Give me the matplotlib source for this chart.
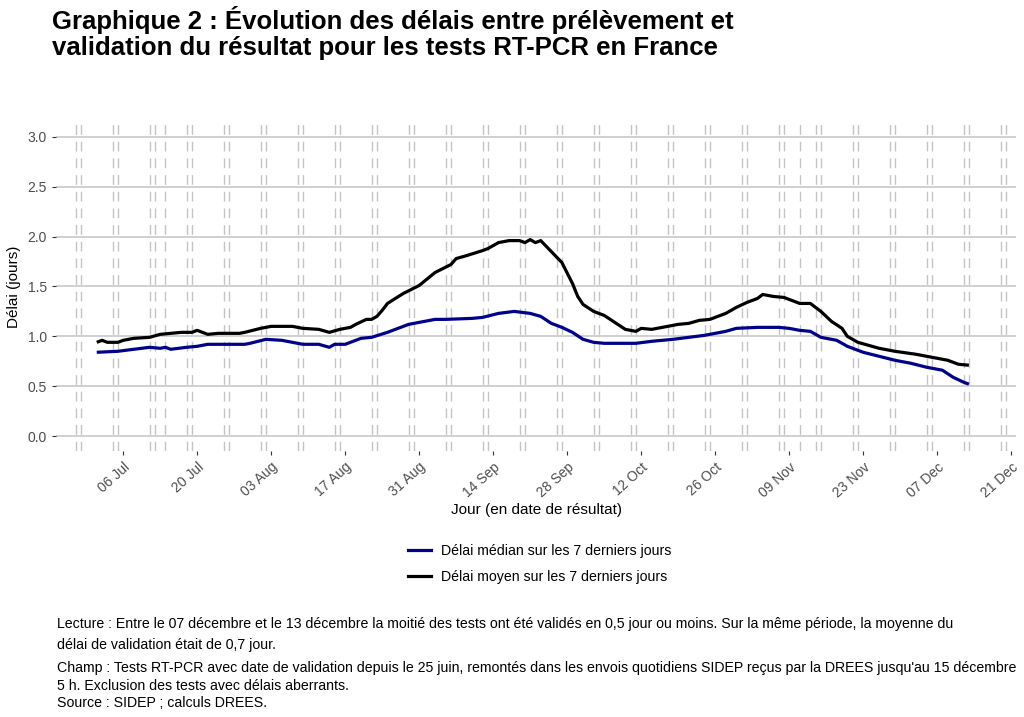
import numpy as np
import pandas as pd
import matplotlib
matplotlib.use("Agg")
import matplotlib.pyplot as plt
import matplotlib.dates as mdates
from matplotlib.lines import Line2D

plt.rcParams['font.family'] = ['Liberation Sans', 'DejaVu Sans']

# délai moyen (noir)
dates_moyen = ["2020-07-01", "2020-07-02", "2020-07-03", "2020-07-05", "2020-07-06", "2020-07-08",
               "2020-07-11", "2020-07-13", "2020-07-17", "2020-07-19", "2020-07-20", "2020-07-22",
               "2020-07-24", "2020-07-28", "2020-07-29", "2020-08-01", "2020-08-03", "2020-08-07",
               "2020-08-09", "2020-08-12", "2020-08-14", "2020-08-16", "2020-08-18", "2020-08-19",
               "2020-08-21", "2020-08-22", "2020-08-23", "2020-08-24", "2020-08-25", "2020-08-28",
               "2020-08-31", "2020-09-03", "2020-09-06", "2020-09-07", "2020-09-09", "2020-09-12",
               "2020-09-13", "2020-09-15", "2020-09-17", "2020-09-19", "2020-09-20", "2020-09-21",
               "2020-09-22", "2020-09-23", "2020-09-25", "2020-09-27", "2020-09-29", "2020-09-30",
               "2020-10-01", "2020-10-03", "2020-10-05", "2020-10-07", "2020-10-09", "2020-10-11",
               "2020-10-12", "2020-10-14", "2020-10-16", "2020-10-19", "2020-10-21", "2020-10-23",
               "2020-10-25", "2020-10-28", "2020-10-30", "2020-11-01", "2020-11-03", "2020-11-04",
               "2020-11-06", "2020-11-08", "2020-11-11", "2020-11-13", "2020-11-15", "2020-11-17",
               "2020-11-19", "2020-11-20", "2020-11-22", "2020-11-26", "2020-11-29", "2020-12-03",
               "2020-12-06", "2020-12-09", "2020-12-11", "2020-12-13"]
delai_moyen = [0.94, 0.96, 0.94, 0.94, 0.96, 0.98,
               0.99, 1.02, 1.04, 1.04, 1.06, 1.02,
               1.03, 1.03, 1.04, 1.08, 1.10, 1.10,
               1.08, 1.07, 1.04, 1.07, 1.09, 1.12,
               1.17, 1.17, 1.20, 1.26, 1.33, 1.43,
               1.51, 1.64, 1.72, 1.78, 1.81, 1.86,
               1.88, 1.94, 1.96, 1.96, 1.94, 1.97,
               1.94, 1.96, 1.85, 1.74, 1.53, 1.40,
               1.32, 1.25, 1.21, 1.14, 1.07, 1.05,
               1.08, 1.07, 1.09, 1.12, 1.13, 1.16,
               1.17, 1.23, 1.29, 1.34, 1.38, 1.42,
               1.40, 1.39, 1.33, 1.33, 1.25, 1.15,
               1.08, 1.00, 0.94, 0.88, 0.85, 0.82,
               0.79, 0.76, 0.72, 0.71]

# délai médian (bleu)
dates_median = ["2020-07-01", "2020-07-05", "2020-07-08", "2020-07-11", "2020-07-13", "2020-07-14",
                "2020-07-15", "2020-07-18", "2020-07-20", "2020-07-22", "2020-07-29", "2020-07-30",
                "2020-08-02", "2020-08-05", "2020-08-09", "2020-08-12", "2020-08-14", "2020-08-15",
                "2020-08-17", "2020-08-20", "2020-08-22", "2020-08-25", "2020-08-29", "2020-09-03",
                "2020-09-05", "2020-09-10", "2020-09-12", "2020-09-15", "2020-09-18", "2020-09-21",
                "2020-09-23", "2020-09-25", "2020-09-27", "2020-09-29", "2020-10-01", "2020-10-03",
                "2020-10-05", "2020-10-11", "2020-10-14", "2020-10-18", "2020-10-21", "2020-10-24",
                "2020-10-26", "2020-10-28", "2020-10-30", "2020-11-03", "2020-11-07", "2020-11-09",
                "2020-11-11", "2020-11-13", "2020-11-15", "2020-11-18", "2020-11-20", "2020-11-23",
                "2020-11-26", "2020-11-29", "2020-12-02", "2020-12-05", "2020-12-08", "2020-12-10",
                "2020-12-12", "2020-12-13"]
delai_median = [0.84, 0.85, 0.87, 0.89, 0.88, 0.89,
                0.87, 0.89, 0.90, 0.92, 0.92, 0.93,
                0.97, 0.96, 0.92, 0.92, 0.89, 0.92,
                0.92, 0.98, 0.99, 1.04, 1.12, 1.17,
                1.17, 1.18, 1.19, 1.23, 1.25, 1.23,
                1.20, 1.13, 1.09, 1.04, 0.97, 0.94,
                0.93, 0.93, 0.95, 0.97, 0.99, 1.01,
                1.03, 1.05, 1.08, 1.09, 1.09, 1.08,
                1.06, 1.05, 0.99, 0.96, 0.90, 0.84,
                0.80, 0.76, 0.73, 0.69, 0.66, 0.59,
                0.54, 0.52]

# week-ends et jours fériés (lignes verticales)
premier_samedi = "2020-06-27"
dernier_dimanche = "2020-12-20"
jours_feries = ["2020-07-14", "2020-11-11"]

tick_dates = ["2020-07-06", "2020-07-20", "2020-08-03", "2020-08-17", "2020-08-31", "2020-09-14",
              "2020-09-28", "2020-10-12", "2020-10-26", "2020-11-09", "2020-11-23", "2020-12-07",
              "2020-12-21"]

samedis = pd.date_range(premier_samedi, dernier_dimanche, freq="W-SAT")
dimanches = pd.date_range(premier_samedi, dernier_dimanche, freq="W-SUN")
jours_lignes = list(samedis) + list(dimanches) + list(pd.to_datetime(jours_feries))

fig = plt.figure(figsize=(10.24, 7.17), dpi=100)
ax = fig.add_axes([0.0547, 0.371, 0.9375, 0.4589])

for d in jours_lignes:
    ax.axvline(d, color="#c4c4c4", linewidth=1.0, linestyle=(0, (7, 5)), zorder=1)

ax.plot(pd.to_datetime(dates_median), delai_median, color="#00008B", linewidth=2.3, zorder=3,
        solid_joinstyle="round", solid_capstyle="butt")
ax.plot(pd.to_datetime(dates_moyen), delai_moyen, color="black", linewidth=2.3, zorder=3,
        solid_joinstyle="round", solid_capstyle="butt")

ax.set_ylim(-0.15, 3.15)
ax.set_yticks([0.0, 0.5, 1.0, 1.5, 2.0, 2.5, 3.0])
ax.set_yticklabels(["0.0", "0.5", "1.0", "1.5", "2.0", "2.5", "3.0"])
ax.set_xlim(pd.Timestamp("2020-06-23 07:00"), pd.Timestamp("2020-12-21 22:00"))
ax.set_xticks(pd.to_datetime(tick_dates))
ax.xaxis.set_major_formatter(mdates.DateFormatter("%d %b"))
ax.grid(axis="y", color="#c8c8c8", linewidth=1.2, zorder=0)
ax.grid(axis="x", visible=False)
for s in ax.spines.values():
    s.set_visible(False)
ax.tick_params(axis="both", colors="#333333", labelcolor="#4d4d4d", labelsize=10, length=3, width=0.8)
plt.setp(ax.get_xticklabels(), rotation=42, ha="right", rotation_mode="anchor")
ax.set_xlabel("Jour (en date de résultat)", fontsize=11, labelpad=2)
ax.set_ylabel("Délai (jours)", fontsize=11, labelpad=5)

fig.text(0.051, 0.992, "Graphique 2 : Évolution des délais entre prélèvement et\n"
         "validation du résultat pour les tests RT-PCR en France",
         fontsize=18.5, fontweight="bold", va="top", ha="left", linespacing=1.12)

handles = [Line2D([], [], color="#00008B", linewidth=2.3),
           Line2D([], [], color="black", linewidth=2.3)]
fig.legend(handles, ["Délai médian sur les 7 derniers jours", "Délai moyen sur les 7 derniers jours"],
           loc="center", bbox_to_anchor=(0.527, 0.214), frameon=False, fontsize=10.2,
           handlelength=1.6, handletextpad=0.7, labelspacing=0.85)

notes = [
    (0.0557, 0.130, "Lecture : Entre le 07 décembre et le 13 décembre la moitié des tests ont été validés en 0,5 jour ou moins. Sur la même période, la moyenne du"),
    (0.0557, 0.100, "délai de validation était de 0,7 jour."),
    (0.0557, 0.068, "Champ : Tests RT-PCR avec date de validation depuis le 25 juin, remontés dans les envois quotidiens SIDEP reçus par la DREES jusqu'au 15 décembre"),
    (0.0557, 0.043, "5 h. Exclusion des tests avec délais aberrants."),
    (0.0557, 0.020, "Source : SIDEP ; calculs DREES."),
]
for x, y, t in notes:
    fig.text(x, y, t, fontsize=10.2, va="center", ha="left")

fig.savefig("out.png", dpi=100, facecolor="white")
